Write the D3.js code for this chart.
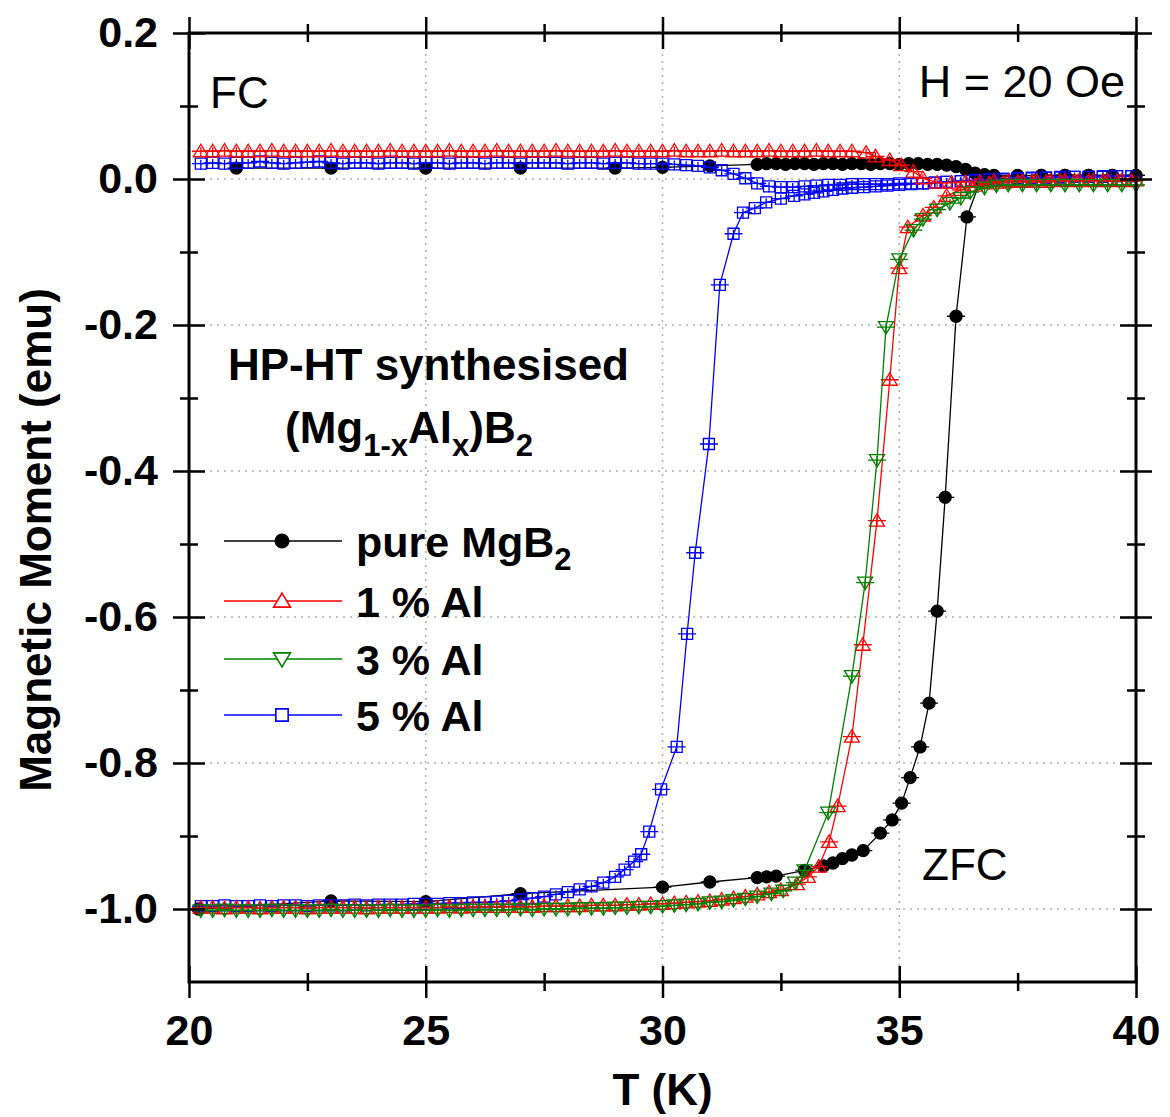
<!DOCTYPE html>
<html>
<head>
<meta charset="utf-8">
<script src="https://cdn.jsdelivr.net/npm/d3@7"></script>
<style>
  body { margin: 0; background: #fff; }
  text { font-family: "Liberation Sans", Arial, sans-serif; fill: #000; }
</style>
</head>
<body>
<div id="chart"></div>
<script>
// ---- data (T in K, moment in emu) ----
var pureZfc = [[20.2,-1.000],[23,-0.989],[25,-0.990],[27,-0.979],[30,-0.970],[31,-0.963],
  [32,-0.957],[32.2,-0.956],[32.4,-0.955],[33,-0.947],[33.4,-0.941],[33.6,-0.937],[33.8,-0.931],
  [34,-0.926],[34.24,-0.920],[34.6,-0.896],[34.85,-0.878],[35.05,-0.855],[35.23,-0.820],
  [35.44,-0.778],[35.63,-0.718],[35.8,-0.592],[35.97,-0.436],[36.2,-0.188],[36.43,-0.052],
  [36.7,-0.004],[37,0.003],[37.5,0.004],[38,0.005],[38.5,0.005],[39,0.005],[39.5,0.005],[40,0.005]];

var pureFc = [[21,0.015],[23,0.015],[25,0.015],[27,0.015],[29,0.015],[30,0.016],[31,0.018],
  [32,0.020],[32.2,0.021],[32.4,0.021],[32.6,0.020],[32.8,0.021],[33,0.021],[33.2,0.020],
  [33.4,0.021],[33.6,0.021],[33.8,0.020],[34,0.021],[34.2,0.021],[34.4,0.020],[34.6,0.021],
  [34.8,0.021],[35,0.020],[35.2,0.021],[35.4,0.021],[35.6,0.020],[35.8,0.020],[36,0.019],
  [36.2,0.017],[36.4,0.013],[36.6,0.008],[36.8,0.006],[37,0.005],[37.5,0.005],[38,0.005],
  [38.5,0.005],[39,0.005],[39.5,0.005],[40,0.005]];

var al1Zfc = [[20.25,-0.998],[20.5,-0.998],[20.75,-0.999],[21,-0.998],[21.25,-0.998],[21.5,-0.999],
  [21.75,-0.998],[22,-0.998],[22.25,-0.998],[22.5,-0.999],[22.75,-0.998],[23,-0.998],[23.25,-0.998],
  [23.5,-0.998],[23.75,-0.999],[24,-0.998],[24.25,-0.998],[24.5,-0.998],[24.75,-0.998],[25,-0.998],
  [25.25,-0.998],[25.5,-0.997],[25.75,-0.998],[26,-0.997],[26.25,-0.997],[26.5,-0.997],[26.75,-0.997],
  [27,-0.997],[27.25,-0.997],[27.5,-0.996],[27.75,-0.996],[28,-0.996],[28.25,-0.996],[28.5,-0.995],
  [28.75,-0.995],[29,-0.995],[29.25,-0.994],[29.5,-0.994],[29.75,-0.993],[30,-0.993],[30.25,-0.992],
  [30.5,-0.991],[30.75,-0.990],[31,-0.989],[31.25,-0.987],[31.5,-0.985],[31.75,-0.983],[32,-0.980],
  [32.25,-0.977],[32.5,-0.974],[32.84,-0.966],[33.07,-0.956],[33.3,-0.942],[33.52,-0.908],
  [33.7,-0.859],[34,-0.764],[34.23,-0.638],[34.53,-0.468],[34.8,-0.275],[35,-0.122],[35.18,-0.066],
  [35.5,-0.050],[35.73,-0.039],[36,-0.023],[36.3,-0.015],[36.6,-0.009],[36.9,-0.006],[37.2,-0.005],
  [37.5,-0.004],[37.8,-0.004],[38.1,-0.004],[38.4,-0.003],[38.7,-0.003],[39,-0.003],[39.3,-0.003],
  [39.6,-0.003],[39.9,-0.003]];

var al1Fc = [[20.25,0.038],[20.5,0.038],[20.75,0.039],[21,0.038],[21.25,0.038],[21.5,0.038],
  [21.75,0.039],[22,0.038],[22.25,0.038],[22.5,0.038],[22.75,0.038],[23,0.039],[23.25,0.038],
  [23.5,0.038],[23.75,0.038],[24,0.038],[24.25,0.039],[24.5,0.038],[24.75,0.038],[25,0.038],
  [25.25,0.038],[25.5,0.039],[25.75,0.038],[26,0.038],[26.25,0.038],[26.5,0.039],[26.75,0.038],
  [27,0.038],[27.25,0.038],[27.5,0.038],[27.75,0.039],[28,0.038],[28.25,0.038],[28.5,0.038],
  [28.75,0.038],[29,0.039],[29.25,0.038],[29.5,0.038],[29.75,0.038],[30,0.038],[30.25,0.039],
  [30.5,0.038],[30.75,0.038],[31,0.038],[31.25,0.039],[31.5,0.038],[31.75,0.038],[32,0.038],
  [32.25,0.039],[32.5,0.038],[32.75,0.038],[33,0.038],[33.25,0.039],[33.5,0.038],[33.75,0.038],
  [34,0.038],[34.3,0.036],[34.5,0.031],[34.8,0.026],[35.04,0.019],[35.3,0.010],[35.5,0.001],
  [35.8,-0.005],[36.1,-0.005],[36.4,-0.004],[36.7,-0.004],[37,-0.003],[37.3,-0.003],[37.6,-0.003],
  [37.9,-0.002],[38.2,-0.002],[38.5,-0.002],[38.8,-0.002],[39.1,-0.002],[39.4,-0.002],[39.7,-0.002],
  [40,-0.002]];

var al3Zfc = [[20.25,-1.002],[20.5,-1.002],[20.75,-1.001],[21,-1.002],[21.25,-1.002],[21.5,-1.002],
  [21.75,-1.001],[22,-1.002],[22.25,-1.002],[22.5,-1.002],[22.75,-1.002],[23,-1.001],[23.25,-1.002],
  [23.5,-1.002],[23.75,-1.002],[24,-1.002],[24.25,-1.001],[24.5,-1.002],[24.75,-1.002],[25,-1.002],
  [25.25,-1.001],[25.5,-1.002],[25.75,-1.001],[26,-1.001],[26.25,-1.001],[26.5,-1.001],[26.75,-1.001],
  [27,-1.000],[27.25,-1.001],[27.5,-1.000],[27.75,-1.000],[28,-1.000],[28.25,-0.999],[28.5,-0.999],
  [28.75,-0.999],[29,-0.998],[29.25,-0.998],[29.5,-0.997],[29.75,-0.997],[30,-0.996],[30.25,-0.995],
  [30.5,-0.994],[30.75,-0.993],[31,-0.991],[31.25,-0.990],[31.5,-0.988],[31.75,-0.986],[32,-0.983],
  [32.3,-0.979],[32.55,-0.975],[32.8,-0.964],[33,-0.947],[33.5,-0.868],[34,-0.681],[34.28,-0.553],
  [34.53,-0.385],[34.72,-0.203],[35,-0.110],[35.3,-0.070],[35.5,-0.055],[35.8,-0.042],[36.07,-0.033],
  [36.3,-0.026],[36.5,-0.018],[36.8,-0.012],[37.05,-0.009],[37.3,-0.008],[37.6,-0.008],[37.9,-0.008],
  [38.2,-0.008],[38.5,-0.008],[38.8,-0.008],[39.1,-0.008],[39.4,-0.008],[39.7,-0.008],[40,-0.008]];

var al5Zfc = [[20.25,-0.996],[20.5,-0.996],[20.75,-0.995],[21,-0.996],[21.25,-0.996],[21.5,-0.995],
  [21.75,-0.996],[22,-0.995],[22.25,-0.995],[22.5,-0.996],[22.75,-0.995],[23,-0.995],[23.25,-0.995],
  [23.5,-0.994],[23.75,-0.995],[24,-0.994],[24.25,-0.994],[24.5,-0.994],[24.75,-0.993],[25,-0.993],
  [25.25,-0.993],[25.5,-0.992],[25.75,-0.992],[26,-0.991],[26.25,-0.991],[26.5,-0.990],[26.75,-0.989],
  [27,-0.987],[27.25,-0.985],[27.5,-0.983],[27.75,-0.980],[28,-0.977],[28.25,-0.973],[28.5,-0.969],
  [28.75,-0.964],[29,-0.956],[29.2,-0.946],[29.4,-0.935],[29.55,-0.925],[29.72,-0.894],[29.97,-0.836],
  [30.3,-0.778],[30.52,-0.623],[30.69,-0.512],[30.98,-0.363],[31.21,-0.145],[31.5,-0.075],[31.7,-0.046],
  [31.95,-0.040],[32.19,-0.032],[32.5,-0.027],[32.78,-0.023],[33,-0.021],[33.2,-0.019],[33.4,-0.017],
  [33.6,-0.015],[33.8,-0.013],[34,-0.012],[34.25,-0.011],[34.5,-0.010],[34.75,-0.009],[35,-0.008],
  [35.25,-0.007],[35.5,-0.006],[35.75,-0.005],[36,-0.004],[36.3,-0.003],[36.6,-0.002],[36.9,-0.001],
  [37.2,0.000],[37.5,0.001],[37.8,0.002],[38.1,0.002],[38.4,0.003],[38.7,0.003],[39,0.003],
  [39.3,0.004],[39.6,0.004],[39.9,0.004]];

var al5Fc = [[20.25,0.021],[20.5,0.022],[20.75,0.021],[21,0.022],[21.25,0.022],[21.5,0.024],
  [21.75,0.022],[22,0.021],[22.25,0.022],[22.5,0.023],[22.75,0.024],[23,0.022],[23.25,0.021],
  [23.5,0.022],[23.75,0.022],[24,0.021],[24.25,0.022],[24.5,0.022],[24.75,0.021],[25,0.022],
  [25.25,0.022],[25.5,0.021],[25.75,0.022],[26,0.022],[26.25,0.021],[26.5,0.022],[26.75,0.022],
  [27,0.021],[27.25,0.022],[27.5,0.022],[27.75,0.022],[28,0.021],[28.25,0.022],[28.5,0.022],
  [28.75,0.021],[29,0.022],[29.25,0.022],[29.5,0.021],[29.75,0.021],[30,0.021],[30.25,0.020],
  [30.5,0.019],[30.75,0.018],[31,0.016],[31.25,0.012],[31.5,0.007],[31.75,0.001],[32,-0.006],
  [32.25,-0.010],[32.5,-0.011],[32.75,-0.011],[33,-0.010],[33.25,-0.009],[33.5,-0.008],[33.75,-0.008],
  [34,-0.007],[34.25,-0.007],[34.5,-0.007],[34.75,-0.007],[35,-0.006],[35.25,-0.006],[35.5,-0.006],
  [35.75,-0.005],[36,-0.004],[36.3,-0.003],[36.6,-0.002],[36.9,-0.001],[37.2,0.000],[37.5,0.001],
  [37.8,0.001],[38.1,0.002],[38.4,0.002],[38.7,0.003],[39,0.003],[39.3,0.003],[39.6,0.004],[39.9,0.004]];

var xMajor = [20, 25, 30, 35, 40];
var xMinor = [22.5, 27.5, 32.5, 37.5];
var yMajor = [0.2, 0.0, -0.2, -0.4, -0.6, -0.8, -1.0];
var yMinor = [0.1, -0.1, -0.3, -0.5, -0.7, -0.9];
var gridX = [25, 30, 35];
var gridY = [0.0, -0.2, -0.4, -0.6, -0.8, -1.0];

var legendNames = ["pure MgB", "1 % Al", "3 % Al", "5 % Al"];
var legendColors = ["#000000", "#ff0000", "#008000", "#0000ff"];
var legendShapes = ["circle", "up", "down", "square"];

// ---- layout ----
var svgWidth = 1170;
var svgHeight = 1117;
var margin = {top: 33, right: 34, bottom: 135, left: 189};
var width = svgWidth - margin.left - margin.right;
var height = svgHeight - margin.top - margin.bottom;

var svg = d3.select("#chart")
  .append("svg")
  .attr("width", svgWidth)
  .attr("height", svgHeight);

var chartGroup = svg.append("g")
  .attr("transform", `translate(${margin.left}, ${margin.top})`);

var x = d3.scaleLinear().domain([20, 40]).range([0, width]);
var y = d3.scaleLinear().domain([-1.1, 0.2]).range([height, 0]);

// dotted grid
chartGroup.selectAll(".gx").data(gridX).enter().append("line")
  .attr("x1", d => x(d)).attr("x2", d => x(d))
  .attr("y1", 0).attr("y2", height)
  .attr("stroke", "#b0b0b0").attr("stroke-width", 1.5).attr("stroke-dasharray", "2,5");
chartGroup.selectAll(".gy").data(gridY).enter().append("line")
  .attr("x1", 0).attr("x2", width)
  .attr("y1", d => y(d)).attr("y2", d => y(d))
  .attr("stroke", "#b0b0b0").attr("stroke-width", 1.5).attr("stroke-dasharray", "2,5");

function markerPath(shape, s) {
  if (shape === "up") return `M0,${-7 * s}L${7.5 * s},${5.5 * s}L${-7.5 * s},${5.5 * s}Z`;
  if (shape === "down") return `M0,${7 * s}L${7.5 * s},${-5.5 * s}L${-7.5 * s},${-5.5 * s}Z`;
  if (shape === "square") return `M${-5.5 * s},${-5.5 * s}H${5.5 * s}V${5.5 * s}H${-5.5 * s}Z`;
  return d3.symbol().type(d3.symbolCircle).size(Math.PI * 36 * s * s)();
}

var line = d3.line().x(d => x(d[0])).y(d => y(d[1]));

function drawSeries(pts, color, shape) {
  var g = chartGroup.append("g");
  g.append("path")
    .datum(pts)
    .attr("d", line)
    .attr("fill", "none")
    .attr("stroke", color)
    .attr("stroke-width", 1.3);
  var pg = g.selectAll(".pt")
    .data(pts)
    .enter()
    .append("g")
    .attr("transform", d => `translate(${x(d[0])}, ${y(d[1])})`);
  // small error bars
  pg.append("path")
    .attr("d", "M-9,0H9M0,-4V6")
    .attr("stroke", color)
    .attr("stroke-width", 1.3);
  pg.append("path")
    .attr("d", markerPath(shape, 1))
    .attr("fill", shape === "circle" ? color : "none")
    .attr("stroke", color)
    .attr("stroke-width", 1.3);
}

drawSeries(pureZfc, legendColors[0], "circle");
drawSeries(pureFc, legendColors[0], "circle");
drawSeries(al5Zfc, legendColors[3], "square");
drawSeries(al5Fc, legendColors[3], "square");
drawSeries(al1Zfc, legendColors[1], "up");
drawSeries(al1Fc, legendColors[1], "up");
drawSeries(al3Zfc, legendColors[2], "down");

// ---- axes: ticks cross the frame ----
function crossTicks(sel, len, horiz) {
  sel.selectAll(".tick line")
    .attr(horiz ? "y1" : "x1", -len)
    .attr(horiz ? "y2" : "x2", len)
    .attr("stroke-width", 2.5);
  sel.select(".domain").remove();
}

var bottomAxis = chartGroup.append("g")
  .attr("transform", `translate(0, ${height})`)
  .call(d3.axisBottom(x).tickValues(xMajor).tickSize(16).tickPadding(16).tickFormat(d3.format("d")));
crossTicks(bottomAxis, 16, true);
bottomAxis.selectAll("text").attr("font-size", 43).attr("font-weight", "bold")
  .attr("font-family", "'Liberation Sans', Arial, sans-serif");
var bottomMinor = chartGroup.append("g")
  .attr("transform", `translate(0, ${height})`)
  .call(d3.axisBottom(x).tickValues(xMinor).tickSize(9).tickFormat(""));
crossTicks(bottomMinor, 9, true);

var topAxis = chartGroup.append("g")
  .call(d3.axisTop(x).tickValues(xMajor).tickSize(16).tickFormat(""));
crossTicks(topAxis, 16, true);
var topMinor = chartGroup.append("g")
  .call(d3.axisTop(x).tickValues(xMinor).tickSize(9).tickFormat(""));
crossTicks(topMinor, 9, true);

var leftAxis = chartGroup.append("g")
  .call(d3.axisLeft(y).tickValues(yMajor).tickSize(16).tickPadding(15).tickFormat(d => d.toFixed(1)));
crossTicks(leftAxis, 16, false);
leftAxis.selectAll("text").attr("font-size", 43).attr("font-weight", "bold")
  .attr("font-family", "'Liberation Sans', Arial, sans-serif");
var leftMinor = chartGroup.append("g")
  .call(d3.axisLeft(y).tickValues(yMinor).tickSize(9).tickFormat(""));
crossTicks(leftMinor, 9, false);

var rightAxis = chartGroup.append("g")
  .attr("transform", `translate(${width}, 0)`)
  .call(d3.axisRight(y).tickValues(yMajor).tickSize(16).tickFormat(""));
crossTicks(rightAxis, 16, false);
var rightMinor = chartGroup.append("g")
  .attr("transform", `translate(${width}, 0)`)
  .call(d3.axisRight(y).tickValues(yMinor).tickSize(9).tickFormat(""));
crossTicks(rightMinor, 9, false);

// frame
chartGroup.append("rect")
  .attr("width", width).attr("height", height)
  .attr("fill", "none").attr("stroke", "#000").attr("stroke-width", 3);

// ---- axis titles ----
svg.append("text")
  .attr("x", margin.left + width / 2).attr("y", 1105)
  .attr("text-anchor", "middle")
  .attr("font-size", 44).attr("font-weight", "bold")
  .text("T (K)");

svg.append("text")
  .attr("transform", "translate(51, 540) rotate(-90)")
  .attr("text-anchor", "middle")
  .attr("font-size", 44).attr("font-weight", "bold")
  .text("Magnetic Moment (emu)");

// ---- annotations ----
svg.append("text").attr("x", 210).attr("y", 108).attr("font-size", 44).text("FC");
svg.append("text").attr("x", 1125).attr("y", 97).attr("text-anchor", "end")
  .attr("font-size", 45).text("H = 20 Oe");
svg.append("text").attr("x", 922).attr("y", 880).attr("font-size", 44).text("ZFC");

svg.append("text").attr("x", 228).attr("y", 380)
  .attr("font-size", 44).attr("font-weight", "bold")
  .text("HP-HT synthesised");

var formula = svg.append("text").attr("x", 285).attr("y", 443)
  .attr("font-size", 44).attr("font-weight", "bold");
formula.append("tspan").text("(Mg");
formula.append("tspan").attr("dy", 13).attr("font-size", 31).text("1-x");
formula.append("tspan").attr("dy", -13).text("Al");
formula.append("tspan").attr("dy", 13).attr("font-size", 31).text("x");
formula.append("tspan").attr("dy", -13).text(")B");
formula.append("tspan").attr("dy", 13).attr("font-size", 31).text("2");

// ---- legend ----
var legendRows = [541, 601, 659, 715];
var legend = svg.append("g");
legendNames.forEach(function(name, i) {
  var row = legend.append("g").attr("transform", `translate(0, ${legendRows[i]})`);
  row.append("line")
    .attr("x1", 224).attr("x2", 342)
    .attr("stroke", legendColors[i]).attr("stroke-width", 1.3);
  row.append("path")
    .attr("transform", "translate(282, 0)")
    .attr("d", markerPath(legendShapes[i], 1.12))
    .attr("fill", legendShapes[i] === "circle" ? legendColors[i] : "#fff")
    .attr("stroke", legendColors[i]).attr("stroke-width", 1.6);
  var t = row.append("text")
    .attr("x", 356).attr("y", 16)
    .attr("font-size", 43).attr("font-weight", "bold")
    .text(name);
  if (i === 0) {
    t.append("tspan").attr("dy", 13).attr("font-size", 31).text("2");
  }
});
</script>
</body>
</html>
